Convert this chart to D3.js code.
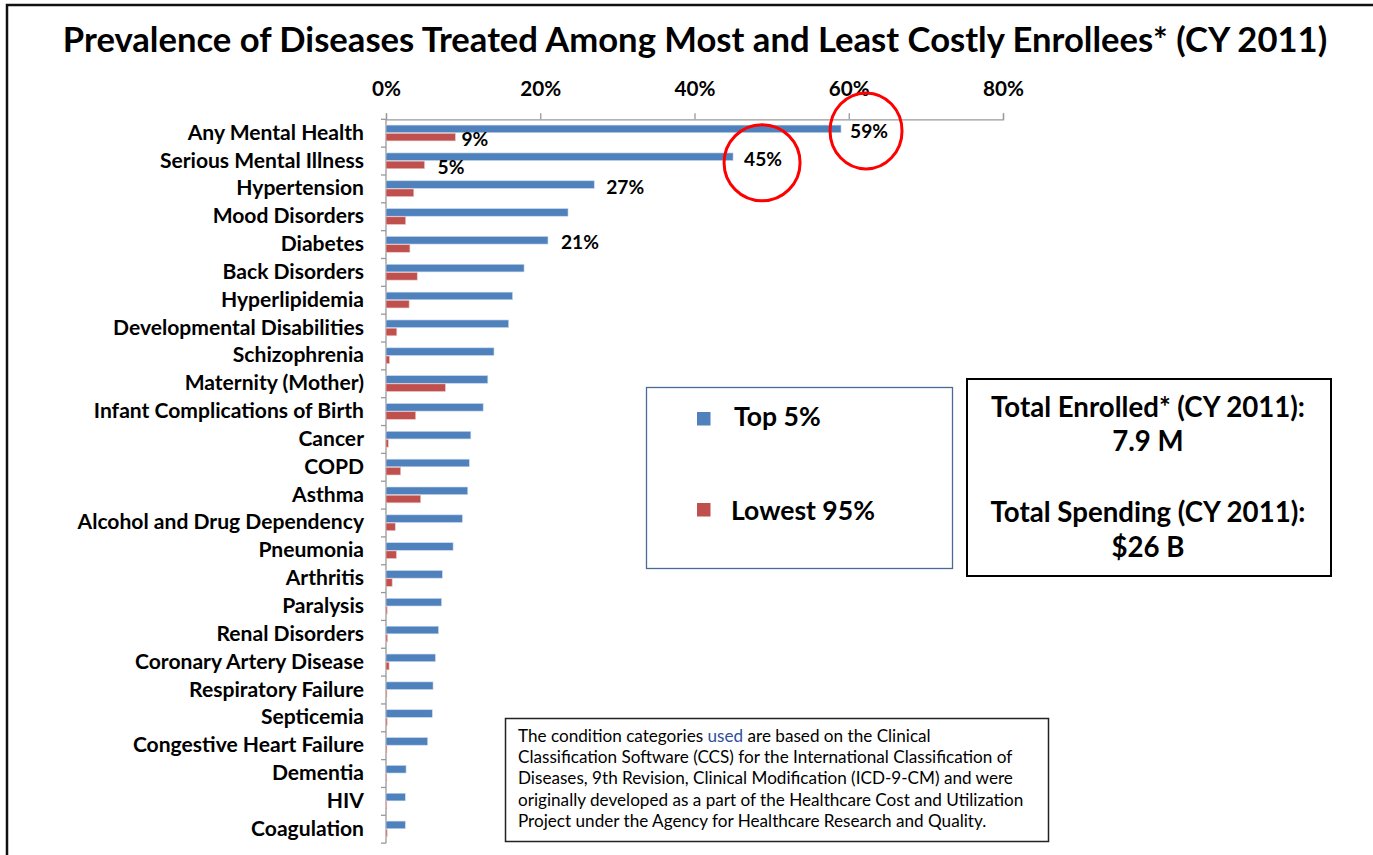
<!DOCTYPE html>
<html>
<head>
<meta charset="utf-8">
<script src="https://cdn.jsdelivr.net/npm/d3@7"></script>
<style>
  html, body { margin: 0; padding: 0; background: #fff; }
  svg { display: block; }
</style>
</head>
<body>
<svg id="chart" width="1373" height="855"></svg>
<script>
// ---------------- DATA ----------------
const categories = [
  "Any Mental Health", "Serious Mental Illness", "Hypertension", "Mood Disorders",
  "Diabetes", "Back Disorders", "Hyperlipidemia", "Developmental Disabilities",
  "Schizophrenia", "Maternity (Mother)", "Infant Complications of Birth", "Cancer",
  "COPD", "Asthma", "Alcohol and Drug Dependency", "Pneumonia", "Arthritis",
  "Paralysis", "Renal Disorders", "Coronary Artery Disease", "Respiratory Failure",
  "Septicemia", "Congestive Heart Failure", "Dementia", "HIV", "Coagulation"
];
const top5 = [59, 45, 27, 23.6, 21, 17.9, 16.4, 15.9, 14.0, 13.2, 12.6, 11.0,
  10.8, 10.6, 9.9, 8.7, 7.3, 7.2, 6.8, 6.4, 6.1, 6.0, 5.4, 2.6, 2.5, 2.5];
const lowest95 = [9, 5, 3.6, 2.55, 3.1, 4.05, 3.0, 1.4, 0.45, 7.7, 3.85, 0.3,
  1.9, 4.5, 1.2, 1.35, 0.8, 0.15, 0.2, 0.4, 0.12, 0.15, 0.12, 0.05, 0.05, 0.15];
const xTicks = [0, 20, 40, 60, 80];
const seriesNames = ["Top 5%", "Lowest 95%"];
// labelled values: [category index, series (0=top5,1=lowest95)]
const labelled = [[0, 0], [0, 1], [1, 0], [1, 1], [2, 0], [4, 0]];
const circled = [[0, 0], [1, 0]];
const titleText = "Prevalence of Diseases Treated Among Most and Least Costly Enrollees* (CY 2011)";
const totalLines = ["Total Enrolled* (CY 2011):", "7.9 M", "Total Spending (CY 2011):", "$26 B"];
const noteLines = [
  ["The condition categories ", "used", " are based on the Clinical"],
  ["Classification Software (CCS) for the International Classification of"],
  ["Diseases, 9th Revision, Clinical Modification (ICD-9-CM) and were"],
  ["originally developed as a part of the Healthcare Cost and Utilization"],
  ["Project under the Agency for Healthcare Research and Quality."]
];

// ---------------- STYLE ----------------
const FONT = "Lato, 'Noto Sans', sans-serif";
const BLUE = "#4f81bd", RED = "#c0504d";
const svg = d3.select("#chart");

function fit(sel, target) {
  const w = sel.node().getComputedTextLength();
  const fs = parseFloat(sel.attr("font-size"));
  const nfs = fs * target / w;
  sel.attr("font-size", nfs);
  return nfs;
}

// outer frame
svg.append("path").attr("d", "M7,855 L7,5 L1373,5")
  .attr("fill", "none").attr("stroke", "#111").attr("stroke-width", 2.5);

// title
const title = svg.append("text").attr("x", 695).attr("y", 52)
  .attr("text-anchor", "middle").attr("font-family", FONT).attr("font-weight", 700)
  .attr("font-size", 30).attr("fill", "#000").text(titleText);
fit(title, 1265);

// ---------------- SCALES ----------------
const x = d3.scaleLinear().domain([0, 80]).range([386, 1003]);
const y = d3.scaleBand().domain(categories).range([119.3, 119.3 + 26 * 27.84]).padding(0);
const bw = y.bandwidth();

// x axis (top)
const gx = svg.append("g").attr("transform", `translate(0,${y.range()[0]})`)
  .call(d3.axisTop(x).tickValues(xTicks).tickSize(6).tickPadding(17).tickFormat(d => d + "%"));
gx.select(".domain").attr("stroke", "#999").attr("stroke-width", 1.3);
gx.selectAll(".tick line").attr("stroke", "#999").attr("stroke-width", 1.3);
gx.selectAll(".tick text").attr("font-family", FONT).attr("font-weight", 700)
  .attr("font-size", 19).attr("fill", "#000");
{
  const t = gx.selectAll(".tick text").filter(d => d === 80);
  const fs = fit(t, 41);
  gx.selectAll(".tick text").attr("font-size", fs);
}

// y axis (left)
const gy = svg.append("g").attr("transform", `translate(${x(0)},0)`);
gy.append("line").attr("x1", 0).attr("x2", 0)
  .attr("y1", y.range()[0]).attr("y2", y.range()[1])
  .attr("stroke", "#999").attr("stroke-width", 1.3);
const bounds = categories.map(c => y(c)).concat([y.range()[1]]);
gy.selectAll("line.tk").data(bounds).join("line").attr("class", "tk")
  .attr("x1", -5).attr("x2", 0).attr("y1", d => d).attr("y2", d => d)
  .attr("stroke", "#999").attr("stroke-width", 1.3);

const ylabels = svg.append("g").selectAll("text").data(categories).join("text")
  .attr("x", 364).attr("y", d => y(d) + bw / 2 + 6.5)
  .attr("text-anchor", "end").attr("font-family", FONT).attr("font-weight", 700)
  .attr("font-size", 17).attr("fill", "#000").text(d => d);
{
  const t = ylabels.filter(d => d === "Developmental Disabilities");
  const fs = fit(t, 251);
  ylabels.attr("font-size", fs);
}

// ---------------- BARS ----------------
const barH = 7.6;
svg.append("g").selectAll("rect").data(categories).join("rect")
  .attr("x", x(0)).attr("y", d => y(d) + 5.8)
  .attr("width", (d, i) => x(top5[i]) - x(0)).attr("height", barH)
  .attr("fill", BLUE).attr("stroke", "#c9d7ea").attr("stroke-width", 0.6);
svg.append("g").selectAll("rect").data(categories).join("rect")
  .attr("x", x(0)).attr("y", d => y(d) + 14)
  .attr("width", (d, i) => Math.max(0.8, x(lowest95[i]) - x(0))).attr("height", barH)
  .attr("fill", RED).attr("stroke", "#ebc6c5").attr("stroke-width", 0.6);

// ---------------- VALUE LABELS ----------------
const lblOffsets = [9, 6, 11, 13, 12, 13];
const vl = svg.append("g").selectAll("text").data(labelled).join("text")
  .attr("x", (d, k) => {
    const v = d[1] === 0 ? top5[d[0]] : lowest95[d[0]];
    return x(v) + lblOffsets[k];
  })
  .attr("y", d => y(categories[d[0]]) + (d[1] === 0 ? 5.8 : 14) + barH / 2 + 9)
  .attr("font-family", FONT).attr("font-weight", 700).attr("font-size", 17)
  .attr("fill", "#000")
  .text(d => (d[1] === 0 ? top5[d[0]] : lowest95[d[0]]) + "%");
{
  const t = vl.filter((d, k) => k === 0);
  const fs = fit(t, 38);
  vl.attr("font-size", fs);
}

// red circles
const circOff = [[25, 2], [29, 6]];
svg.append("g").selectAll("ellipse").data(circled).join("ellipse")
  .attr("cx", (d, k) => x(top5[d[0]]) + circOff[k][0])
  .attr("cy", (d, k) => y(categories[d[0]]) + 5.8 + barH / 2 + circOff[k][1])
  .attr("rx", (d, k) => k === 0 ? 36 : 38).attr("ry", 38)
  .attr("fill", "none").attr("stroke", "#f00").attr("stroke-width", 3);

// ---------------- LEGEND ----------------
const lg = svg.append("g");
lg.append("rect").attr("x", 646.5).attr("y", 387.5).attr("width", 306).attr("height", 181)
  .attr("fill", "#fff").attr("stroke", "#4a6a9c").attr("stroke-width", 1.3);
const legY = [412, 503];
const legX = [734, 731];
const legC = [BLUE, RED];
lg.selectAll("rect.sw").data(seriesNames).join("rect").attr("class", "sw")
  .attr("x", 697).attr("y", (d, i) => legY[i]).attr("width", 13.5).attr("height", 13.5)
  .attr("fill", (d, i) => legC[i]);
const lgt = lg.selectAll("text").data(seriesNames).join("text")
  .attr("x", (d, i) => legX[i]).attr("y", (d, i) => legY[i] + 14 + (i ? 3 : 0))
  .attr("font-family", FONT).attr("font-weight", 700).attr("font-size", 22)
  .attr("fill", "#000").text(d => d);
{
  const fs = fit(lgt.filter((d, i) => i === 1), 144);
  lgt.attr("font-size", fs);
}

// ---------------- TOTALS BOX ----------------
const tb = svg.append("g");
tb.append("rect").attr("x", 967).attr("y", 379).attr("width", 364).attr("height", 197)
  .attr("fill", "#fff").attr("stroke", "#000").attr("stroke-width", 2);
const totY = [417, 451, 522, 557];
const tt = tb.selectAll("text").data(totalLines).join("text")
  .attr("x", 1148).attr("y", (d, i) => totY[i]).attr("text-anchor", "middle")
  .attr("font-family", FONT).attr("font-weight", 700).attr("font-size", 22)
  .attr("fill", "#000").text(d => d);
{
  const fs = fit(tt.filter((d, i) => i === 0), 314);
  tt.attr("font-size", fs);
}

// ---------------- NOTE BOX ----------------
const nb = svg.append("g");
nb.append("rect").attr("x", 505.5).attr("y", 718.5).attr("width", 543).attr("height", 123)
  .attr("fill", "#fff").attr("stroke", "#222").attr("stroke-width", 1.5);
const nt = nb.selectAll("text").data(noteLines).join("text")
  .attr("x", 518).attr("y", (d, i) => 742 + i * 21.2)
  .attr("font-family", FONT).attr("font-size", 15).attr("fill", "#000");
nt.selectAll("tspan").data(d => d).join("tspan")
  .attr("fill", (d, i, nodes) => d === "used" ? "#2f4f9a" : "#000")
  .text(d => d);
{
  const fs = fit(nt.filter((d, i) => i === 3), 506);
  nt.attr("font-size", fs);
}
</script>
</body>
</html>
